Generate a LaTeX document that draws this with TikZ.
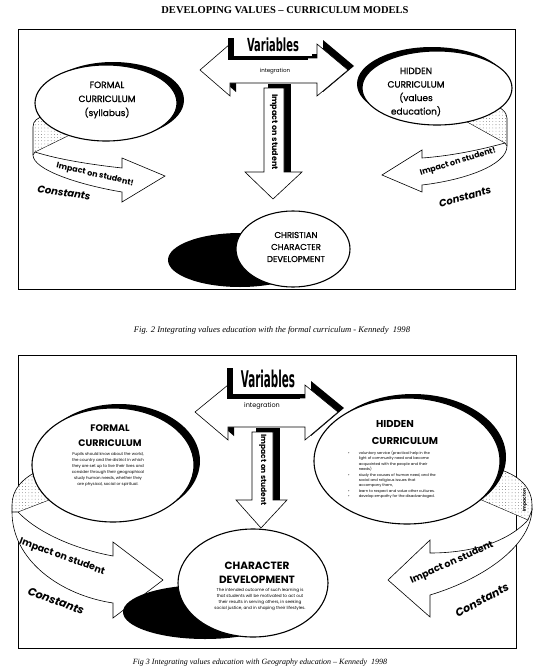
\documentclass[tikz,border=0pt]{standalone}
\usepackage{fontspec}
\setmainfont{Liberation Serif}
\newfontfamily\gothic{Poppins}
\newfontfamily\gothicm[FakeBold=0.9]{Poppins}
\newfontfamily\heavyA[FakeStretch=0.55]{DejaVu Sans}
\newfontfamily\heavyB[FakeStretch=0.45]{DejaVu Sans}
\usepackage{tikz}
\usetikzlibrary{shapes.geometric,patterns.meta}
\newcommand{\fs}[2]{\fontsize{#1}{#2}\selectfont}

\begin{document}
\begin{tikzpicture}[x=1pt,y=-1pt,
  blob/.style={ellipse, draw, line width=1.1pt, fill=white, inner sep=0pt},
  band/.style={draw, line width=0.6pt, fill=white, line join=miter},
  back/.style={fill=white, postaction={pattern={Dots[distance=3.2pt,radius=0.3pt]}}},
  gtxt/.style={font=\gothic, align=center, inner sep=0pt},
  figcap/.style={font=\itshape\fs{8}{9}, inner sep=0pt},
  ]
  \useasboundingbox (0,0) rectangle (536,672);
  \node[font=\bfseries\fs{10.5}{12}, inner sep=0pt] (title) at (285,10) {DEVELOPING VALUES – CURRICULUM MODELS};
  \draw[line width=0.8pt] (18,29) rectangle (515,289);
  \draw[line width=0.8pt] (18,355) rectangle (516,648);
  \node[figcap, font=\itshape\fs{8.6}{9}] (cap1) at (272,330) {Fig. 2 Integrating values education with the formal curriculum - Kennedy\ \ 1998};
  \node[figcap] (cap2) at (260,663) {Fig 3 Integrating values education with Geography education – Kennedy\ \ 1998};

  % top model, bands
  \path[back] (33,127) .. controls (33,121) and (37,118) .. (44,116) -- (80,130) -- (35,152) -- (33,155) -- cycle;
  \draw[line width=0.6pt] (33,155) -- (33,127) .. controls (33,121) and (37,118) .. (44,116);
  \draw[thin] (35,152) -- (80,130);
  \draw[band] (35,152) .. controls (60,160) and (95,165) .. (122,168) -- (122,158) -- (165,176) -- (122,202) -- (122,192) .. controls (80,185) and (33,170) .. (33,155) -- cycle;
  \node[gtxt, font=\gothic\bfseries\fs{8}{8}, rotate=-13] (imp1a) at (95,175) {Impact on student!};
  \node[gtxt, font=\gothic\bfseries\itshape\fs{10}{10}, rotate=-8] (con1a) at (64,193) {Constants};

  \path[back] (507,118) .. controls (507,112) and (500,106) .. (490,104) -- (460,118) -- (505,143) -- (507,146) -- cycle;
  \draw[line width=0.6pt] (507,146) -- (507,118) .. controls (507,112) and (500,106) .. (490,104);
  \draw[thin] (505,143) -- (460,118);
  \draw[band] (505,143) .. controls (480,150) and (450,156) .. (422,158) -- (422,150) -- (382,175) -- (422,192) -- (422,185) .. controls (465,180) and (507,165) .. (507,146) -- cycle;
  \node[gtxt, font=\gothic\bfseries\fs{8}{8}, rotate=17] (imp1b) at (458,162) {Impact on student!};
  \node[gtxt, font=\gothic\bfseries\itshape\fs{10}{10}, rotate=15] (con1b) at (465,197) {Constants};

  % top model, ellipses
  \fill (113,100) ellipse [x radius=71, y radius=38];
  \node[blob, minimum width=142pt, minimum height=76pt] (form1) at (106,103) {};
  \node[gtxt, font=\gothicm\fs{9}{14}] (form1t) at (107,100) {FORMAL\\CURRICULUM\\(syllabus)};
  \fill (432,84) ellipse [x radius=75, y radius=37];
  \node[blob, minimum width=150pt, minimum height=74pt] (hid1) at (437,88) {};
  \node[gtxt, font=\gothicm\fs{9}{13.5}] (hid1t) at (416,92) {HIDDEN\\CURRICULUM\\(values\\education)};
  \fill (240,260) ellipse [x radius=72, y radius=27];
  \node[blob, minimum width=114pt, minimum height=76pt] (chr1) at (293,249) {};
  \node[gtxt, font=\gothicm\fs{8.5}{12}] (chr1t) at (296,247) {CHRISTIAN\\CHARACTER\\DEVELOPMENT};

  % top model, arrows
  \fill[shift={(6,-4)}] (200,70) -- (230,44) -- (230,58) -- (317,58) -- (317,44) -- (348,70) -- (317,96) -- (317,83) -- (230,83) -- (230,96) -- cycle;
  \draw[band] (200,70) -- (230,44) -- (230,58) -- (317,58) -- (317,44) -- (348,70) -- (317,96) -- (317,83) -- (230,83) -- (230,96) -- cycle;
  \node[gtxt, font=\gothic\fs{5.5}{6}] (int1) at (275,71) {integration};
  \fill (228,38) rectangle (308,60);
  \node[fill=white, minimum width=78pt, minimum height=22pt, inner sep=0pt, font=\heavyA\bfseries\fs{18}{18}] (var1) at (273,45) {Variables};
  \fill (268,84) rectangle (291,172);
  \draw[band] (264,88) -- (284,88) -- (284,172) -- (302,172) -- (273,199) -- (245,172) -- (264,172) -- cycle;
  \node[gtxt, font=\gothic\bfseries\fs{8}{8}, rotate=-90] (imp1c) at (274,132) {Impact on student};

  % bottom model, bands
  \path[back] (40,470) .. controls (22,478) and (12,490) .. (12,505) -- (12,512) -- (18,512) -- (75,490) -- (60,470) -- cycle;
  \draw[line width=0.6pt] (40,470) .. controls (22,478) and (12,490) .. (12,505) -- (12,512);
  \draw[thin] (18,512) -- (75,490);
  \draw[band] (18,512) .. controls (40,535) and (80,550) .. (113,556) -- (113,542) -- (163,580) -- (113,618) -- (113,603) .. controls (60,595) and (12,560) .. (12,512) -- cycle;
  \node[gtxt, font=\gothic\bfseries\fs{9.5}{9.5}, rotate=-20] (imp2a) at (62,557) {Impact on student};
  \node[gtxt, font=\gothic\bfseries\itshape\fs{11}{11}, rotate=-20] (con2a) at (56,601) {Constants};

  \path[back] (490,467) .. controls (515,472) and (532,485) .. (532,505) -- (532,510) -- (528,520) -- (470,495) -- (475,470) -- cycle;
  \draw[line width=0.6pt] (490,467) .. controls (515,472) and (532,485) .. (532,505) -- (532,510);
  \draw[thin] (528,520) -- (470,495);
  \node[gtxt, font=\gothic\bfseries\fs{4.5}{4.5}, rotate=90] (imp2c) at (525,500) {Impact on};
  \draw[band] (528,520) .. controls (505,545) and (465,553) .. (430,553) -- (430,540) -- (388,580) -- (430,617) -- (430,595) .. controls (480,580) and (530,548) .. (532,510) -- cycle;
  \node[gtxt, font=\gothic\bfseries\fs{9.5}{9.5}, rotate=24] (imp2b) at (452,563) {Impact on student};
  \node[gtxt, font=\gothic\bfseries\itshape\fs{11}{11}, rotate=28] (con2b) at (482,600) {Constants};

  % bottom model, ellipses
  \fill (119,461) ellipse [x radius=81, y radius=57];
  \node[blob, minimum width=162pt, minimum height=114pt] (form2) at (113,465) {};
  \node[gtxt, font=\gothic\bfseries\fs{9.5}{15}] (form2h) at (110,436) {FORMAL\\CURRICULUM};
  \node[gtxt, font=\gothic\fs{4}{6}] (form2b) at (108,469) {Pupils should know about the world,\\the country and the district in which\\they are set up to live their lives and\\consider through their geographical\\study human needs, whether they\\are physical, social or spiritual.};
  \fill (413,457) ellipse [x radius=93, y radius=63];
  \node[blob, minimum width=186pt, minimum height=126pt] (hid2) at (407,461) {};
  \node[gtxt, font=\gothic\bfseries\fs{10}{10}] (hid2a) at (395,424) {HIDDEN};
  \node[gtxt, font=\gothic\bfseries\fs{10}{10}] (hid2b) at (405,441) {CURRICULUM};
  \node[gtxt, font=\gothic\fs{3.7}{5.4}, align=left] (hid2c) at (392,475) {%
    \begin{tabular}{@{}l@{\hspace{9pt}}l@{}}
    •&voluntary service (practical help in the\\
     &light of community need and become\\
     &acquainted with the people and their\\
     &needs)\\
    •&study the causes of human need, and the\\
     &social and religious issues that\\
     &accompany them,\\
    •&learn to respect and value other cultures.\\
    •&develop empathy for the disadvantaged.
    \end{tabular}};
  \fill (205,612) ellipse [x radius=82, y radius=27];
  \node[blob, minimum width=150pt, minimum height=108pt] (chr2) at (253,583) {};
  \node[gtxt, font=\gothic\bfseries\fs{10.5}{14}] (chr2h) at (257,573) {CHARACTER\\DEVELOPMENT};
  \node[gtxt, font=\gothic\fs{4.2}{6}] (chr2b) at (260,599) {The intended outcome of such learning is\\that students will be motivated to act out\\their results in serving others, in seeking\\social justice, and in shaping their lifestyles.};

  % bottom model, arrows
  \fill[shift={(6,-4)}] (195,412) -- (228,385) -- (228,398) -- (305,398) -- (305,385) -- (338,412) -- (305,440) -- (305,427) -- (228,427) -- (228,440) -- cycle;
  \draw[band] (195,412) -- (228,385) -- (228,398) -- (305,398) -- (305,385) -- (338,412) -- (305,440) -- (305,427) -- (228,427) -- (228,440) -- cycle;
  \node[gtxt, font=\gothic\fs{6.5}{7}] (int2) at (262,406) {integration};
  \fill (227,368) rectangle (300,399);
  \node[fill=white, minimum width=70pt, minimum height=30pt, inner sep=0pt, font=\heavyB\bfseries\fs{23}{23}] (var2) at (268,379) {Variables};
  \fill (256,428) rectangle (280,500);
  \draw[band] (252,432) -- (273,432) -- (273,500) -- (287,500) -- (261,528) -- (236,500) -- (252,500) -- cycle;
  \node[gtxt, font=\gothic\bfseries\fs{7.5}{7.5}, rotate=-90] (imp2d) at (263,470) {Impact on student};
\end{tikzpicture}
\end{document}
